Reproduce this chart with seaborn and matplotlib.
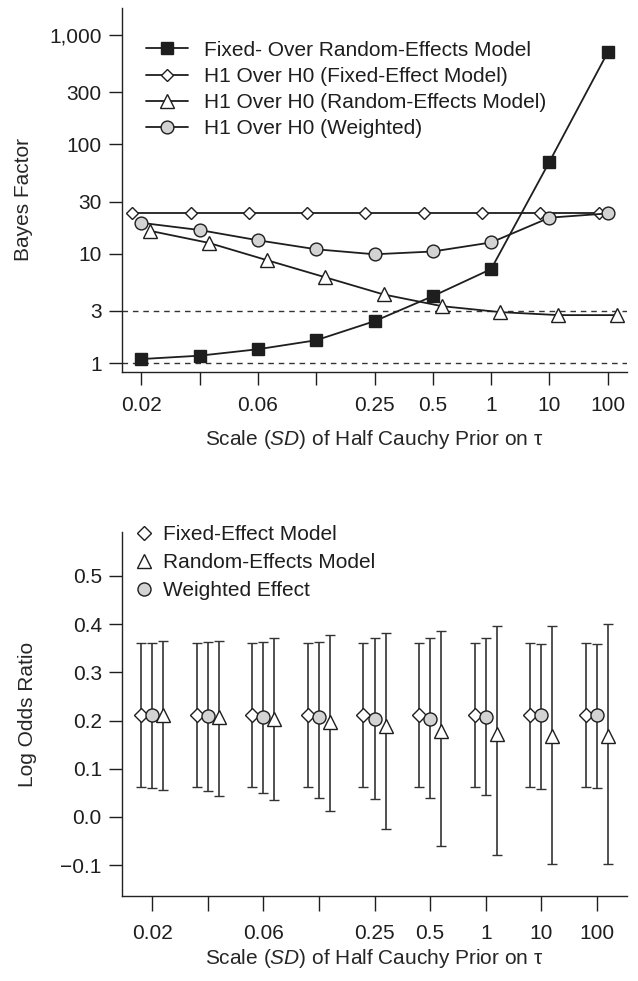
import numpy as np
import matplotlib
matplotlib.use('Agg')
import matplotlib.pyplot as plt
import seaborn as sns
from matplotlib.lines import Line2D

# x categories (scale of half Cauchy prior)
scale_labels = ['0.02', '', '0.06', '', '0.25', '0.5', '1', '10', '100']

# top panel: Bayes factors
bf_fixed_vs_random = [1.09, 1.17, 1.34, 1.62, 2.42, 4.1, 7.25, 69.5, 696]
bf_h1_fixed = [23.6, 23.6, 23.6, 23.6, 23.6, 23.6, 23.6, 23.6, 23.6]
bf_h1_random = [16.2, 12.6, 8.75, 6.1, 4.25, 3.32, 2.93, 2.75, 2.75]
bf_h1_weighted = [19.2, 16.5, 13.3, 11.0, 9.9, 10.5, 12.7, 21.4, 23.4]

bf_ticks = [1, 3, 10, 30, 100, 300, 1000]
bf_ticklabels = ['1', '3', '10', '30', '100', '300', '1,000']

# bottom panel: log odds ratio with intervals
lor_fixed = [0.211, 0.211, 0.211, 0.211, 0.211, 0.211, 0.211, 0.211, 0.211]
lor_fixed_lo = [0.062, 0.062, 0.062, 0.062, 0.062, 0.062, 0.062, 0.062, 0.062]
lor_fixed_hi = [0.361, 0.361, 0.361, 0.361, 0.361, 0.361, 0.361, 0.361, 0.361]
lor_random = [0.211, 0.207, 0.203, 0.197, 0.188, 0.178, 0.172, 0.168, 0.168]
lor_random_lo = [0.055, 0.043, 0.035, 0.012, -0.026, -0.060, -0.078, -0.098, -0.098]
lor_random_hi = [0.365, 0.365, 0.371, 0.378, 0.382, 0.386, 0.396, 0.396, 0.400]
lor_weighted = [0.211, 0.210, 0.208, 0.207, 0.204, 0.204, 0.207, 0.211, 0.211]
lor_weighted_lo = [0.059, 0.054, 0.050, 0.039, 0.037, 0.039, 0.046, 0.057, 0.059]
lor_weighted_hi = [0.360, 0.363, 0.363, 0.363, 0.371, 0.371, 0.371, 0.358, 0.358]

lor_ticks = [-0.1, 0.0, 0.1, 0.2, 0.3, 0.4, 0.5]
lor_ticklabels = ['\u22120.1', '0.0', '0.1', '0.2', '0.3', '0.4', '0.5']

sns.set_style('ticks')
plt.rcParams['font.family'] = ['Liberation Sans', 'DejaVu Sans']
plt.rcParams['mathtext.fontset'] = 'custom'
plt.rcParams['mathtext.rm'] = 'Liberation Sans'
plt.rcParams['mathtext.it'] = 'Liberation Sans:italic'
plt.rcParams['axes.edgecolor'] = '#222222'
plt.rcParams['text.color'] = '#1e1e1e'

ink = '#1e1e1e'
gray = '#d3d3d3'
fs = 15
xlab = 'Scale ($\\mathit{SD}$) of Half Cauchy Prior on \u03c4'

fig = plt.figure(figsize=(6.38, 9.81), dpi=100)
ax1 = fig.add_axes([122 / 638, 1 - 372 / 981, 505 / 638, 364 / 981])
ax2 = fig.add_axes([122 / 638, 1 - 896 / 981, 505 / 638, 364 / 981])

pos = np.arange(len(scale_labels))

# ---- top panel ----
ax1.axhline(1, color='#333333', lw=1, ls=(0, (4, 3.5)), zorder=1)
ax1.axhline(3, color='#333333', lw=1, ls=(0, (4, 3.5)), zorder=1)

sns.lineplot(x=pos, y=bf_fixed_vs_random, ax=ax1, color=ink, lw=1.3, marker='s', ms=8.7,
             mfc=ink, mec=ink, mew=1, label='Fixed- Over Random-Effects Model', zorder=6)
sns.lineplot(x=pos - 0.155, y=bf_h1_fixed, ax=ax1, color=ink, lw=1.3, marker='D', ms=6.6,
             mfc='white', mec=ink, mew=1, label='H1 Over H0 (Fixed-Effect Model)', zorder=3)
sns.lineplot(x=pos + 0.155, y=bf_h1_random, ax=ax1, color=ink, lw=1.3, marker='^', ms=10,
             mfc='white', mec=ink, mew=1, label='H1 Over H0 (Random-Effects Model)', zorder=4)
sns.lineplot(x=pos, y=bf_h1_weighted, ax=ax1, color=ink, lw=1.3, marker='o', ms=9.2,
             mfc=gray, mec=ink, mew=1, label='H1 Over H0 (Weighted)', zorder=5)

ax1.set_yscale('log')
ax1.set_ylim(0.83, 1770)
ax1.set_yticks(bf_ticks)
ax1.set_yticklabels(bf_ticklabels)
ax1.minorticks_off()
ax1.set_xlim(-0.33, 8.33)
ax1.set_xticks(pos)
ax1.set_xticklabels(scale_labels)
ax1.set_ylabel('Bayes Factor', fontsize=fs)
ax1.set_xlabel(xlab, fontsize=fs)
ax1.yaxis.set_label_coords(-0.176, 0.475)
ax1.xaxis.set_label_coords(0.5, -0.154)
ax1.legend(loc='upper left', bbox_to_anchor=(0.0475, 0.91), frameon=False, fontsize=fs,
           handlelength=2.0, handletextpad=0.8, labelspacing=0.34, borderaxespad=0, borderpad=0)

# ---- bottom panel ----
series = [
    (lor_fixed, lor_fixed_lo, lor_fixed_hi, -0.2, 'D', 7, 'white'),
    (lor_weighted, lor_weighted_lo, lor_weighted_hi, 0.0, 'o', 9.4, gray),
    (lor_random, lor_random_lo, lor_random_hi, 0.2, '^', 10, 'white'),
]
for est, lo, hi, off, mk, ms, fc in series:
    est = np.array(est)
    err = [est - np.array(lo), np.array(hi) - est]
    ax2.errorbar(pos + off, est, yerr=err, fmt=mk, ms=ms, mfc=fc, mec=ink, mew=1,
                 ecolor='#333333', elinewidth=1.2, capsize=3.3, capthick=1.2, zorder=3)

ax2.set_ylim(-0.164, 0.591)
ax2.set_yticks(lor_ticks)
ax2.set_yticklabels(lor_ticklabels)
ax2.set_xlim(-0.54, 8.54)
ax2.set_xticks(pos)
ax2.set_xticklabels(scale_labels)
ax2.set_ylabel('Log Odds Ratio', fontsize=fs)
ax2.set_xlabel(xlab, fontsize=fs)
ax2.yaxis.set_label_coords(-0.168, 0.5)
ax2.xaxis.set_label_coords(0.5, -0.14)

handles = [
    Line2D([], [], ls='none', marker='D', ms=7, mfc='white', mec=ink, mew=1),
    Line2D([], [], ls='none', marker='^', ms=10, mfc='white', mec=ink, mew=1),
    Line2D([], [], ls='none', marker='o', ms=9.4, mfc=gray, mec=ink, mew=1),
]
ax2.legend(handles, ['Fixed-Effect Model', 'Random-Effects Model', 'Weighted Effect'],
           loc='upper left', bbox_to_anchor=(0.022, 1.019), frameon=False, fontsize=fs,
           handlelength=1.0, handletextpad=0.45, labelspacing=0.44, borderaxespad=0, borderpad=0)

for ax in (ax1, ax2):
    sns.despine(ax=ax)
    ax.spines['left'].set_linewidth(1.0)
    ax.spines['bottom'].set_linewidth(1.0)
    ax.tick_params(direction='out', width=1, labelsize=fs, colors='#1e1e1e')
    ax.tick_params(axis='y', length=9.5, pad=5)
ax1.tick_params(axis='x', length=9.5, pad=8)
ax2.tick_params(axis='x', length=11, pad=9)

fig.savefig('out.png', dpi=100)
